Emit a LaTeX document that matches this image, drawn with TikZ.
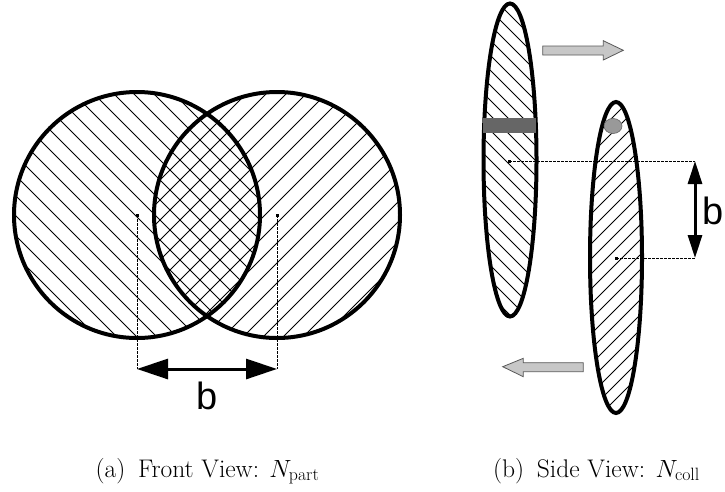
\documentclass[tikz,border=0pt]{standalone}
\usepackage{fontspec}
\newfontfamily\arialfont{Liberation Sans}
\usetikzlibrary{arrows.meta}
\begin{document}
\begin{tikzpicture}[x=1pt,y=-1pt,
  outline/.style={line width=4pt},
  hatch/.style={line width=0.8pt},
  guide/.style={line width=0.8pt, dash pattern=on 2.5pt off 1.5pt},
  dotmark/.style={fill=black, rectangle, minimum size=3pt, inner sep=0pt},
  bigdim/.style={line width=3pt, {Triangle[length=31pt,width=20pt]}-{Triangle[length=31pt,width=20pt]}},
  smalldim/.style={line width=3pt, {Triangle[length=23pt,width=14pt]}-{Triangle[length=23pt,width=14pt]}},
  blockarrow/.style={fill=black!22, draw=black!65, line width=0.8pt, line join=miter},
  lbl/.style={font=\arialfont\fontsize{38}{40}\selectfont, inner sep=0pt},
  caption/.style={font=\fontsize{25.5}{30}\selectfont, inner sep=0pt, anchor=base}
]
\useasboundingbox (0,0) rectangle (725,491);

% ---------- (a) front view ----------
\coordinate (cA) at (137,215);
\coordinate (cB) at (277,215);
\begin{scope}
  \clip (cA) circle [radius=123];
  \foreach \c in {-260,-240,...,120} \draw[hatch] (\c,0) -- (\c+500,500);
\end{scope}
\begin{scope}
  \clip (cB) circle [radius=123];
  \foreach \c in {300,320,...,680} \draw[hatch] (\c,0) -- (\c-500,500);
\end{scope}
\draw[outline] (cA) circle [radius=123];
\draw[outline] (cB) circle [radius=123];

\node[dotmark] (dA) at (cA) {};
\node[dotmark] (dB) at (cB) {};
\coordinate (eA) at (137,369);
\coordinate (eB) at (277,369);
\draw[guide] (dA.center) -- (eA);
\draw[guide] (dB.center) -- (eB);
\draw[bigdim] (eA) -- (eB);
\node[lbl, anchor=base] (bA) at (207,409) {b};

% ---------- (b) side view ----------
\coordinate (eL) at (510,160);
\coordinate (eR) at (616,257.5);
\begin{scope}
  \clip (eL) ellipse [x radius=26.5, y radius=156.5];
  \foreach \c in {165,180,...,540} \draw[hatch] (\c,0) -- (\c+500,500);
\end{scope}
\begin{scope}
  \clip (eR) ellipse [x radius=26, y radius=155.5];
  \foreach \c in {685,700,...,1065} \draw[hatch] (\c,0) -- (\c-500,500);
\end{scope}
\draw[outline] (eL) ellipse [x radius=26.5, y radius=156.5];
\draw[outline] (eR) ellipse [x radius=26, y radius=155.5];

% band and spot
\fill[black!60] (483,118) rectangle (536,133);
\draw[fill=black!40, draw=black!60, line width=0.6pt] (613,126) ellipse [x radius=9, y radius=7.5];

% block arrows
\draw[blockarrow] (542.7,46) -- (603.3,46) -- (603.3,40.7) -- (623.3,50.3)
  -- (603.3,60) -- (603.3,55) -- (542.7,55) -- cycle;
\draw[blockarrow] (583.3,362.7) -- (523.3,362.7) -- (523.3,358.3) -- (502.7,366.7)
  -- (523.3,376.7) -- (523.3,371.7) -- (583.3,371.7) -- cycle;

% impact parameter
\node[dotmark] (dL) at (509,161) {};
\node[dotmark] (dR) at (616,258) {};
\coordinate (fL) at (695,161);
\coordinate (fR) at (695,258);
\draw[guide] (dL.center) -- (fL);
\draw[guide] (dR.center) -- (fR);
\draw[smalldim] (fL) -- (fR);
\node[lbl, anchor=base east] (bB) at (724,224) {b};

% captions
\node[caption] (capA) at (207.5,477) {(a)\enspace Front View: $N_{\mathrm{part}}$};
\node[caption] (capB) at (596.5,477) {(b)\enspace Side View: $N_{\mathrm{coll}}$};
\end{tikzpicture}
\end{document}
